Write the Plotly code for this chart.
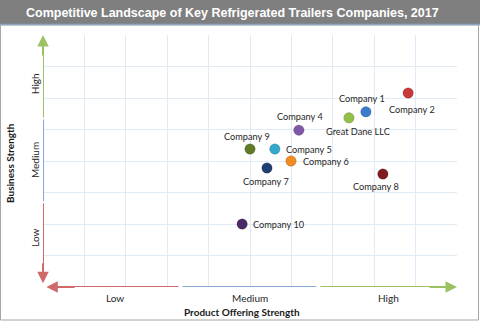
import plotly.graph_objects as go

# Company positions on the two strength scales (0-10 product, 0-8 business)
companies = ["Company 1", "Company 2", "Great Dane LLC", "Company 4", "Company 9",
             "Company 5", "Company 6", "Company 7", "Company 8", "Company 10"]
product_strength = [7.80, 8.82, 7.39, 6.18, 5.00, 5.60, 5.99, 5.41, 8.21, 4.81]
business_strength = [5.56, 6.16, 5.37, 4.98, 4.38, 4.38, 4.00, 3.78, 3.59, 2.00]
colors = ["#3b7ccc", "#c9393b", "#93c046", "#8056a8", "#5e7b27",
          "#33a9cc", "#f28b22", "#1e3f73", "#7e1b1e", "#4b2a68"]
# label offset (pixels, right / down) relative to each point
label_dx = [-4, 4, 9, 1, -3, 34, 35, -1, -7, 37]
label_dy = [-13, 17, 14, -14, -13, 0, 0, 14, 13, 0]

level_labels = ["Low", "Medium", "High"]
x_level_pos = [1.75, 5.0, 8.35]
y_level_pos = [1.56, 4.03, 6.44]

W, H = 480, 321
L, R, T, B = 43, 457, 35, 287  # plot area in pixels


def px(x):
    return (x - L) / (R - L)


def py(y):
    return (B - y) / (B - T)


fig = go.Figure()

fig.add_trace(go.Scatter(
    x=product_strength, y=business_strength, mode="markers",
    marker=dict(size=10.5, color=colors, line=dict(width=0.6, color="rgba(0,0,0,0.25)")),
    hoverinfo="skip", showlegend=False,
))

label_font = dict(family="Lato, Open Sans, sans-serif", size=9.2, color="#262626")
for name, x, y, dx, dy in zip(companies, product_strength, business_strength, label_dx, label_dy):
    fig.add_annotation(x=x, y=y, text=name, showarrow=False, font=label_font,
                       xanchor="center", yanchor="middle", xshift=dx, yshift=-dy)

shapes = []
# title bar
shapes.append(dict(type="rect", xref="paper", yref="paper", x0=px(0), x1=px(W), y0=py(24), y1=py(0),
                   fillcolor="#7f7f7f", line=dict(width=0), layer="below"))
shapes.append(dict(type="line", xref="paper", yref="paper", x0=px(0), x1=px(W), y0=py(24.5), y1=py(24.5),
                   line=dict(color="#7fa4d6", width=1.5)))
# outer frame
shapes.append(dict(type="rect", xref="paper", yref="paper", x0=px(0.5), x1=px(478.5), y0=py(320), y1=py(25),
                   line=dict(color="#a6a6a6", width=1), fillcolor="rgba(0,0,0,0)"))

red, blue, green = "#d06a6a", "#86a9d8", "#9cc162"
axis_w = 2
# segmented vertical axis
axis_shapes = [
    dict(type="line", x0=0, x1=0, y0=0.3, y1=2.66, line=dict(color=red, width=axis_w)),
    dict(type="line", x0=0, x1=0, y0=2.72, y1=5.32, line=dict(color=blue, width=axis_w)),
    dict(type="line", x0=0, x1=0, y0=5.38, y1=7.7, line=dict(color=green, width=axis_w)),
    # segmented horizontal axis
    dict(type="line", x0=0.2, x1=3.27, y0=0, y1=0, line=dict(color=red, width=axis_w)),
    dict(type="line", x0=3.37, x1=6.6, y0=0, y1=0, line=dict(color=blue, width=axis_w)),
    dict(type="line", x0=6.7, x1=9.7, y0=0, y1=0, line=dict(color=green, width=axis_w)),
]
for s in axis_shapes:
    s["xref"] = "x"
    s["yref"] = "y"
fig.update_layout(shapes=shapes + axis_shapes)

# arrow heads
for tip, tail, col in [((0, 8), (0, 7.3), green), ((0, 0.12), (0, 0.8), red),
                       ((0.08, 0), (0.8, 0), red), ((10, 0), (9.3, 0), green)]:
    fig.add_annotation(x=tip[0], y=tip[1], ax=tail[0], ay=tail[1], xref="x", yref="y",
                       axref="x", ayref="y", text="", showarrow=True, arrowhead=2,
                       arrowsize=1.15, arrowwidth=2, arrowcolor=col)

tick_font = dict(family="Lato, Open Sans, sans-serif", size=10, color="#262626")
for lab, xv in zip(level_labels, x_level_pos):
    fig.add_annotation(x=xv, y=0, text=lab, showarrow=False, font=tick_font,
                       xanchor="center", yanchor="middle", yshift=-11)
for lab, yv in zip(level_labels, y_level_pos):
    fig.add_annotation(x=0, y=yv, text=lab, showarrow=False, font=tick_font,
                       xanchor="center", yanchor="middle", xshift=-8, textangle=-90)

title_font = dict(family="Lato, Open Sans, sans-serif", size=10, color="#1a1a1a")
fig.add_annotation(xref="paper", yref="paper", x=px(242), y=py(312), text="<b>Product Offering Strength</b>",
                   showarrow=False, font=title_font, xanchor="center", yanchor="middle")
fig.add_annotation(xref="paper", yref="paper", x=px(10), y=py(163), text="<b>Business Strength</b>",
                   showarrow=False, font=title_font, textangle=-90, xanchor="center", yanchor="middle")
fig.add_annotation(xref="paper", yref="paper", x=px(24), y=py(12.5), xanchor="left", yanchor="middle",
                   text="<b>Competitive Landscape of Key Refrigerated Trailers Companies, 2017</b>",
                   showarrow=False, font=dict(family="Liberation Sans, Arial, sans-serif", size=12.5, color="white"))

grid = "#e1ebf5"
fig.update_xaxes(range=[0, 10], tickmode="linear", tick0=0, dtick=1, showgrid=True, gridcolor=grid,
                 gridwidth=1, zeroline=False, showticklabels=False, ticks="", fixedrange=True)
fig.update_yaxes(range=[0, 8], tickmode="linear", tick0=0, dtick=1, showgrid=True, gridcolor=grid,
                 gridwidth=1, zeroline=False, showticklabels=False, ticks="", fixedrange=True)

fig.update_layout(width=W, height=H, margin=dict(l=L, r=W - R, t=T, b=H - B),
                  paper_bgcolor="white", plot_bgcolor="white")

fig.write_html("out.html", config={"displayModeBar": False})
